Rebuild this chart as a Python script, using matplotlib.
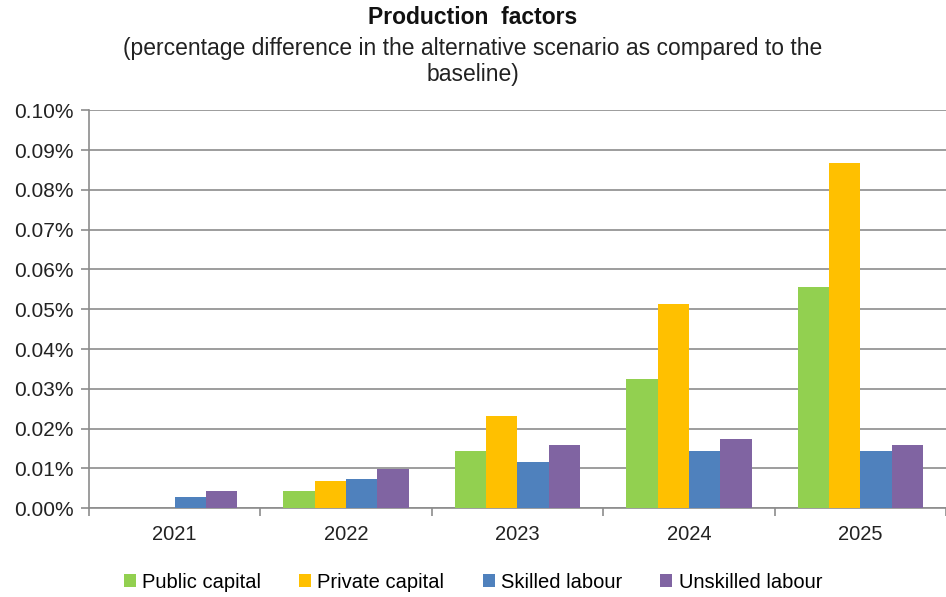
import numpy as np
import matplotlib.pyplot as plt
from matplotlib.ticker import FuncFormatter, MultipleLocator

plt.rcParams['font.family'] = ['Liberation Sans', 'DejaVu Sans']

# ---- Data (percent) ----
years = ["2021", "2022", "2023", "2024", "2025"]
public_capital = [0.0, 0.0042, 0.0143, 0.0324, 0.0555]
private_capital = [0.0, 0.0067, 0.0232, 0.0514, 0.0868]
skilled_labour = [0.0027, 0.0072, 0.0117, 0.0143, 0.0143]
unskilled_labour = [0.0042, 0.0099, 0.0158, 0.0173, 0.0158]

series = [
    ("Public capital", public_capital, "#92D050"),
    ("Private capital", private_capital, "#FFC000"),
    ("Skilled labour", skilled_labour, "#4F81BD"),
    ("Unskilled labour", unskilled_labour, "#8064A2"),
]

fig = plt.figure(figsize=(9.46, 5.97), dpi=100)
ax = fig.add_axes([0.094, 0.149, 0.906, 0.666])

x = np.arange(len(years))
w = 0.183
for i, (name, vals, col) in enumerate(series):
    ax.bar(x + (i - 1.5) * w, vals, width=w, color=col, label=name, zorder=3)

ax.set_xlim(-0.5, len(years) - 0.5)
ax.set_ylim(0, 0.10)
ax.yaxis.set_major_locator(MultipleLocator(0.01))
ax.yaxis.set_major_formatter(FuncFormatter(lambda v, p: f"{v:.2f}%"))
ax.grid(axis="y", color="#8c8c8c", linewidth=1.2, zorder=0)

# category ticks between groups
ax.set_xticks(x)
ax.set_xticklabels(years)
ax.set_xticks(np.arange(len(years) + 1) - 0.5, minor=True)
ax.tick_params(axis="x", which="major", length=0, pad=12, labelsize=14.5, labelcolor="#222222")
ax.tick_params(axis="x", which="minor", length=6, color="#8c8c8c", width=1.2)
ax.tick_params(axis="y", length=6, color="#8c8c8c", width=1.2, labelsize=15, labelcolor="#222222", pad=5)

for s in ["top", "right"]:
    ax.spines[s].set_visible(False)
for s in ["left", "bottom"]:
    ax.spines[s].set_color("#8c8c8c")
    ax.spines[s].set_linewidth(1.2)

# ---- Titles ----
fig.text(0.5, 1 - 18 / 597, "Production  factors", ha="center", va="center",
         fontsize=16.5, fontweight="bold", color="#111111")
fig.text(0.5, 1 - 48 / 597, "(percentage difference in the alternative scenario as compared to the",
         ha="center", va="center", fontsize=16.5, color="#222222")
fig.text(0.5, 1 - 75 / 597, "baseline)", ha="center", va="center", fontsize=16.5, color="#222222")

# ---- Legend ----
fig.legend(loc="center", bbox_to_anchor=(0.5, 1 - 582 / 597), ncol=4, frameon=False,
           fontsize=14.5, handlelength=0.6, handleheight=0.6, handletextpad=0.3,
           columnspacing=1.9)

fig.savefig("out.png", dpi=100)
